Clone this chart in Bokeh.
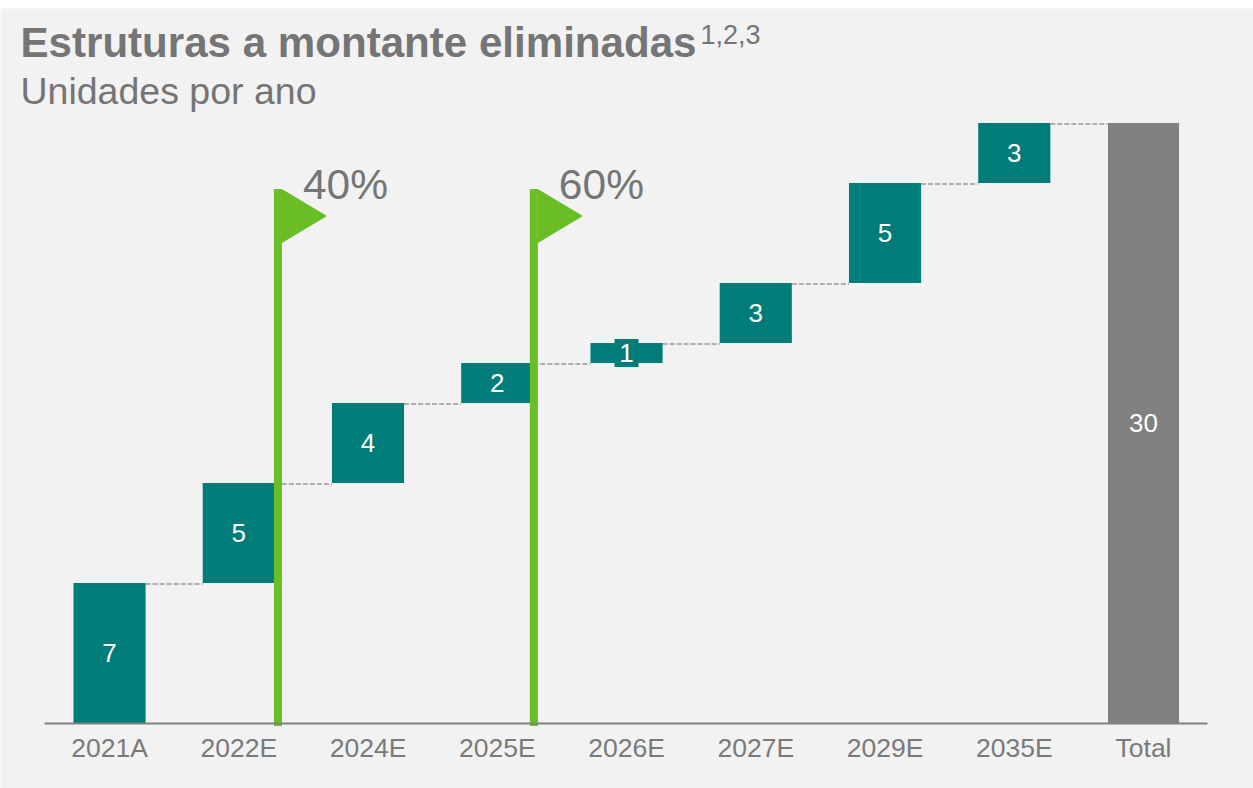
from bokeh.plotting import figure
from bokeh.models import Range1d, FixedTicker, Label
from bokeh.core.properties import value
from bokeh.embed import file_html
from bokeh.resources import INLINE

categories = ["2021A", "2022E", "2024E", "2025E", "2026E", "2027E", "2029E", "2035E", "Total"]
increments = [7, 5, 4, 2, 1, 3, 5, 3]
total = 30
flag_positions = [1.803, 3.783]
flag_labels = ["40%", "60%"]

FONT = "Liberation Sans"
BG = "#F2F2F2"
TEAL = "#007D78"
GREEN = "#6ABD25"
GREY = "#808080"
TEXT = "#757575"
BAR_W = 0.558
PX_X = 129.25
PX_Y = 20.0
BASE_Y = 722.5  # page row of the value zero
LEFT = 44.4     # page column of the first category's left edge

p = figure(width=1253, height=780, output_backend="svg", toolbar_location=None,
           x_range=Range1d(-LEFT / PX_X, (1253 - LEFT) / PX_X),
           y_range=Range1d((BASE_Y - 788) / PX_Y, (BASE_Y - 8) / PX_Y),
           min_border_left=0, min_border_right=0, min_border_top=0, min_border_bottom=0,
           background_fill_color=BG, border_fill_color=BG, outline_line_color=None,
           margin=(8, 0, 0, 0))
p.grid.visible = False
p.yaxis.visible = False

ax = p.xaxis[0]
ax.fixed_location = 0
ax.bounds = (0, 8.995)
ax.ticker = FixedTicker(ticks=[i + 0.5 for i in range(len(categories))])
ax.major_label_overrides = {i + 0.5: c for i, c in enumerate(categories)}
ax.major_tick_line_color = None
ax.minor_tick_line_color = None
ax.axis_line_color = GREY
ax.axis_line_width = 2
ax.major_label_text_font = FONT
ax.major_label_text_font_size = "26.5px"
ax.major_label_text_color = "#7A7A7A"
ax.major_label_standoff = 4

tops, bottoms, acc = [], [], 0
for v in increments:
    bottoms.append(acc)
    acc += v
    tops.append(acc)

xs = [i + 0.5 for i in range(len(increments))]

# connectors
cx0 = [i + 0.5 + BAR_W / 2 for i in range(len(increments))]
cx1 = [i + 1.5 - BAR_W / 2 for i in range(len(increments))]
p.segment(cx0, [t - 0.05 for t in tops], cx1, [t - 0.05 for t in tops],
          line_color="#ADADAD", line_width=2, line_dash="5 2")

p.vbar(x=xs, bottom=bottoms, top=tops, width=BAR_W, fill_color=TEAL, line_color=None)
p.vbar(x=[len(increments) + 0.5], bottom=[0], top=[total], width=0.55, fill_color=GREY, line_color=None)

# chip behind the small bar's label
small = [i for i, v in enumerate(increments) if v == 1]
p.rect([xs[i] for i in small], [(tops[i] + bottoms[i]) / 2 for i in small],
       width=24, height=28, width_units="screen", height_units="screen",
       fill_color=TEAL, line_color=None)

# titles and flag captions; the rendered baseline sits about 0.385 em below the anchor
def head(x, page_y, text, size, bold=False):
    p.add_layout(Label(x=(x - LEFT) / PX_X, y=(BASE_Y - (page_y - 0.385 * size)) / PX_Y,
                       text=text, text_font=FONT, text_font_size=f"{size}px",
                       text_color=TEXT, text_baseline="alphabetic",
                       text_font_style="bold" if bold else "normal"))

# flags
POLE = 8 / PX_X
FLAG_TOP = 26.7
p.vbar(x=flag_positions, bottom=-0.15, top=FLAG_TOP, width=POLE, fill_color=GREEN, line_color=None)
for fx, lab in zip(flag_positions, flag_labels):
    left = fx + POLE / 2
    p.patch([left, left + 45 / PX_X, left], [FLAG_TOP, FLAG_TOP - 27 / PX_Y, FLAG_TOP - 54 / PX_Y],
            fill_color=GREEN, line_color=None)
    head(LEFT + left * PX_X + 21, 200, lab, 42.5)

# value labels
lab_x = xs + [len(increments) + 0.5]
lab_y = [(a + b) / 2 for a, b in zip(tops, bottoms)] + [total / 2]
lab_t = [str(v) for v in increments] + [str(total)]
p.text(lab_x, lab_y, text=lab_t, text_font=value(FONT), text_font_size=value("26px"),
       text_color="white", text_align="center", text_baseline="middle")

head(20, 58, "Estruturas a montante eliminadas", 42.1, True)
head(700, 44, "1,2,3", 27)
head(20, 105, "Unidades por ano", 37.5)

open("out.html", "w").write(file_html(p, INLINE))
